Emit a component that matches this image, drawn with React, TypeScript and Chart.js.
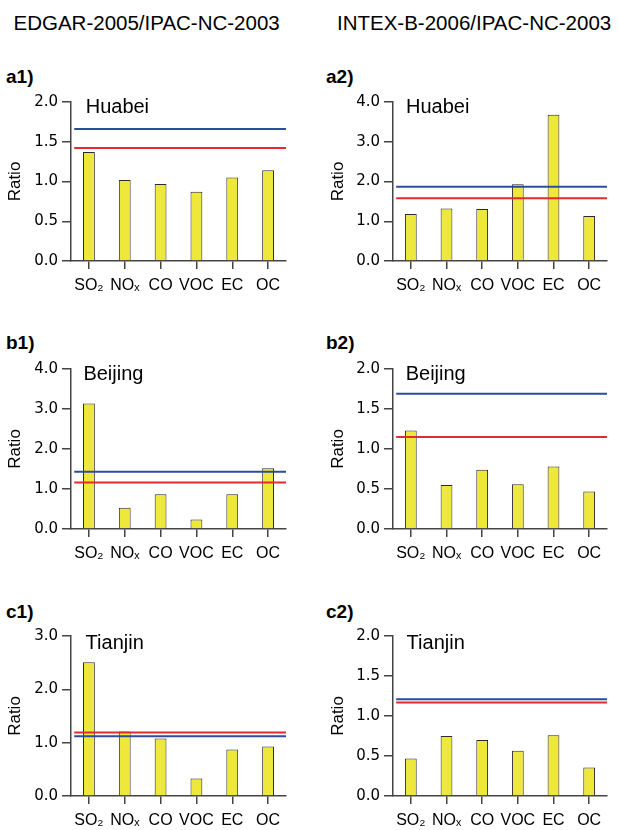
import React, { useEffect, useRef } from "react";
import { Chart, registerables } from "chart.js";

Chart.register(...registerables);

// ---------- data ----------
const CATEGORIES = ["SO₂", "NOₓ", "CO", "VOC", "EC", "OC"];

const COLUMN_TITLES = ["EDGAR-2005/IPAC-NC-2003", "INTEX-B-2006/IPAC-NC-2003"];
const PANEL_LABELS = ["a1)", "a2)", "b1)", "b2)", "c1)", "c2)"];
const REGIONS = ["Huabei", "Huabei", "Beijing", "Beijing", "Tianjin", "Tianjin"];

const A1_VALUES = [1.37, 1.02, 0.97, 0.87, 1.05, 1.14];
const A2_VALUES = [1.18, 1.32, 1.31, 1.93, 3.68, 1.13];
const B1_VALUES = [3.14, 0.53, 0.87, 0.24, 0.87, 1.52];
const B2_VALUES = [1.23, 0.55, 0.74, 0.56, 0.78, 0.47];
const C1_VALUES = [2.51, 1.21, 1.08, 0.33, 0.87, 0.93];
const C2_VALUES = [0.47, 0.75, 0.70, 0.565, 0.76, 0.355];

// horizontal reference lines (blue, red) per panel
const BLUE_LINES = [1.66, 1.87, 1.43, 1.69, 1.12, 1.21];
const RED_LINES = [1.42, 1.58, 1.16, 1.15, 1.19, 1.17];

const Y_MAX = [2, 4, 4, 2, 3, 2];
const Y_STEP = [0.5, 1, 1, 0.5, 1, 0.5];
const Y_TITLE = "Ratio";

const VALUES = [A1_VALUES, A2_VALUES, B1_VALUES, B2_VALUES, C1_VALUES, C2_VALUES];

// ---------- styles / layout ----------
const SANS = "'Liberation Sans', Arial, Helvetica, sans-serif";
const TICK_FONT = "'DejaVu Sans', Verdana, sans-serif";
const BAR_FILL = "#EEE83C";
const BAR_EDGE = "#2a2a2a";
const BLUE = "#2C4C9C";
const RED = "#E8282E";
const AXIS = "#444444";

const COLS = [
  { left: 0, width: 300, axisW: 71, padRight: 14, titlePad: 5 },
  { left: 312, width: 306, axisW: 81, padRight: 11, titlePad: 16.6 },
];
const ROWS = [
  { plotTop: 101, plotH: 160 },
  { plotTop: 368, plotH: 161 },
  { plotTop: 635, plotH: 161 },
];
const PAD_TOP = 12;
const X_AXIS_H = 34;

function ChartPanel({ idx }: { idx: number }) {
  const ref = useRef<HTMLCanvasElement | null>(null);
  const col = COLS[idx % 2];
  const row = ROWS[Math.floor(idx / 2)];
  const height = PAD_TOP + row.plotH + X_AXIS_H;

  useEffect(() => {
    if (!ref.current) return;
    const chart = new Chart(ref.current, {
      type: "bar",
      data: {
        labels: CATEGORIES,
        datasets: [
          {
            type: "line",
            data: [
              { x: 0.015, y: BLUE_LINES[idx] },
              { x: 1, y: BLUE_LINES[idx] },
            ],
            xAxisID: "x2",
            yAxisID: "y",
            borderColor: BLUE,
            borderWidth: 2,
            pointRadius: 0,
            order: 0,
          } as any,
          {
            type: "line",
            data: [
              { x: 0.015, y: RED_LINES[idx] },
              { x: 1, y: RED_LINES[idx] },
            ],
            xAxisID: "x2",
            yAxisID: "y",
            borderColor: RED,
            borderWidth: 2,
            pointRadius: 0,
            order: 0,
          } as any,
          {
            type: "bar",
            data: VALUES[idx],
            xAxisID: "x",
            yAxisID: "y",
            backgroundColor: BAR_FILL,
            borderColor: BAR_EDGE,
            borderWidth: 1,
            grouped: false,
            barPercentage: 0.33,
            categoryPercentage: 1,
            order: 1,
          } as any,
        ],
      },
      options: {
        animation: false,
        responsive: false,
        maintainAspectRatio: false,
        events: [],
        plugins: { legend: { display: false }, tooltip: { enabled: false } },
        layout: { padding: { top: PAD_TOP, right: col.padRight, left: 0, bottom: 0 } },
        scales: {
          x: {
            type: "category",
            offset: true,
            grid: {
              display: true,
              drawOnChartArea: false,
              offset: false,
              tickLength: 8,
              color: AXIS,
              lineWidth: 1.5,
            },
            border: { display: true, color: AXIS, width: 1.5 },
            ticks: {
              font: { family: SANS, size: 16 },
              color: "#000",
              padding: 7,
              maxRotation: 0,
              minRotation: 0,
              autoSkip: false,
            },
            afterFit: (s: any) => {
              s.height = X_AXIS_H;
            },
          },
          x2: {
            type: "linear",
            display: false,
            min: 0,
            max: 1,
            offset: false,
            grid: { offset: false },
          },
          y: {
            min: 0,
            max: Y_MAX[idx],
            ticks: {
              stepSize: Y_STEP[idx],
              callback: (v: any) => Number(v).toFixed(1),
              font: { family: TICK_FONT, size: 15 },
              color: "#000",
              padding: 4,
            },
            grid: {
              display: true,
              drawOnChartArea: false,
              tickLength: 9,
              color: AXIS,
              lineWidth: 1.5,
            },
            border: { display: true, color: AXIS, width: 1.5 },
            title: {
              display: true,
              text: Y_TITLE,
              font: { family: SANS, size: 17 },
              color: "#000",
              padding: { top: col.titlePad, bottom: 0 },
            },
            afterFit: (s: any) => {
              s.width = col.axisW;
            },
          },
        } as any,
      },
    });
    return () => chart.destroy();
  }, [idx]);

  return (
    <canvas
      ref={ref}
      width={col.width}
      height={height}
      style={{
        position: "absolute",
        left: col.left,
        top: row.plotTop - PAD_TOP,
        width: col.width,
        height,
      }}
    />
  );
}

function Text({
  x,
  baseline,
  size,
  bold,
  children,
}: {
  x: number;
  baseline: number;
  size: number;
  bold?: boolean;
  children: React.ReactNode;
}) {
  return (
    <div
      style={{
        position: "absolute",
        left: x,
        top: baseline - 0.8465 * size,
        fontSize: size,
        lineHeight: size + "px",
        fontFamily: SANS,
        fontWeight: bold ? 700 : 400,
        whiteSpace: "nowrap",
        color: "#000",
      }}
    >
      {children}
    </div>
  );
}

const TITLE_POS = [
  { x: 13.5, baseline: 30 },
  { x: 337, baseline: 30 },
];
const PANEL_LABEL_POS = [
  { x: 6, baseline: 83 },
  { x: 326, baseline: 83 },
  { x: 6, baseline: 349.5 },
  { x: 326, baseline: 349.5 },
  { x: 6, baseline: 618 },
  { x: 326, baseline: 618 },
];
const REGION_POS = [
  { x: 85.7, baseline: 113.3 },
  { x: 406, baseline: 113.3 },
  { x: 83.4, baseline: 379.5 },
  { x: 405.7, baseline: 379.5 },
  { x: 85.6, baseline: 649 },
  { x: 406.6, baseline: 649 },
];

export default function App() {
  return (
    <div
      style={{
        position: "fixed",
        left: 0,
        top: 0,
        width: 618,
        height: 830,
        overflow: "hidden",
        background: "#fff",
      }}
    >
      {COLUMN_TITLES.map((t, i) => (
        <Text key={"t" + i} x={TITLE_POS[i].x} baseline={TITLE_POS[i].baseline} size={20.5}>
          {t}
        </Text>
      ))}
      {PANEL_LABELS.map((_, i) => (
        <ChartPanel key={"c" + i} idx={i} />
      ))}
      {PANEL_LABELS.map((l, i) => (
        <Text
          key={"p" + i}
          x={PANEL_LABEL_POS[i].x}
          baseline={PANEL_LABEL_POS[i].baseline}
          size={19}
          bold
        >
          {l}
        </Text>
      ))}
      {REGIONS.map((r, i) => (
        <Text key={"r" + i} x={REGION_POS[i].x} baseline={REGION_POS[i].baseline} size={20}>
          {r}
        </Text>
      ))}
    </div>
  );
}
